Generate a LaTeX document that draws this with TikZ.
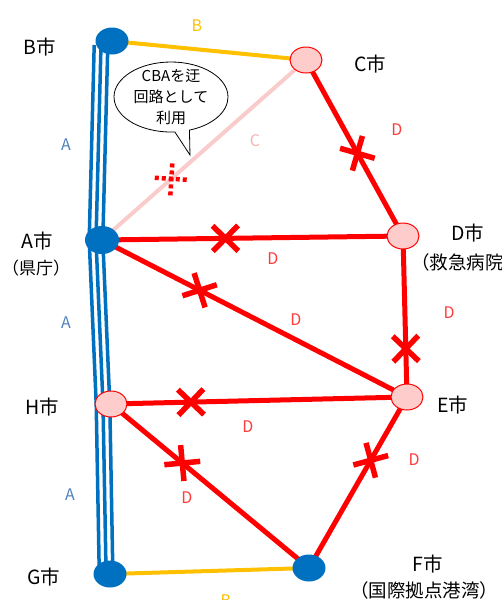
\documentclass[tikz,border=0pt]{standalone}
\usepackage{fontspec}
\setmainfont{Noto Sans CJK JP}
\usetikzlibrary{shapes.geometric,shapes.misc,shapes.callouts,backgrounds}
\definecolor{cblue}{HTML}{0070C0}
\definecolor{cyellow}{HTML}{FFC000}
\definecolor{cpinkline}{HTML}{F9CBCB}
\definecolor{cpinkfill}{HTML}{FFCCCC}
\definecolor{cred}{HTML}{FF0000}
\definecolor{cdlabel}{HTML}{FF3B3B}
\definecolor{calabel}{HTML}{4F81BD}
\definecolor{cclabel}{HTML}{F4B4B4}
\begin{document}
\begin{tikzpicture}[x=1pt,y=-1pt,
  bnode/.style={ellipse,fill=cblue,minimum width=33pt,minimum height=27pt,inner sep=0},
  pnode/.style={ellipse,fill=cpinkfill,draw=cred,line width=1pt,minimum width=32pt,minimum height=26pt,inner sep=0},
  blueline/.style={draw=cblue,line width=3.5pt},
  yline/.style={draw=cyellow,line width=4pt},
  pline/.style={draw=cpinkline,line width=4pt},
  rline/.style={draw=cred,line width=5pt},
  xmark/.style={cross out,draw=cred,line width=5.5pt,minimum size=20pt,inner sep=0,sloped},
  citylbl/.style={font=\fontsize{19.5}{22}\selectfont,text=black,inner sep=0},
  sublbl/.style={font=\fontsize{18.5}{22}\selectfont,text=black,inner sep=0},
  dlbl/.style={font=\fontsize{16}{18}\selectfont,text=cdlabel,inner sep=0},
  albl/.style={font=\fontsize{16}{18}\selectfont,text=calabel,inner sep=0},
  blbl/.style={font=\fontsize{16}{18}\selectfont,text=cyellow,inner sep=0},
  clbl/.style={font=\fontsize{16}{18}\selectfont,text=cclabel,inner sep=0}]
\useasboundingbox (0,0) rectangle (501,600);
\clip (0,0) rectangle (501,600);

% city nodes
\node[bnode] (B) at (112,41) {};
\node[pnode] (C) at (306,60) {};
\node[bnode,minimum width=34pt,minimum height=28pt] (A) at (102,240) {};
\node[pnode] (D) at (403,236) {};
\node[pnode] (H) at (111,404) {};
\node[pnode] (E) at (407,397) {};
\node[bnode] (G) at (110,574) {};
\node[bnode] (F) at (309,568) {};

% connectors
\begin{scope}[on background layer]
  \foreach \d in {-6.8,0,6.8}{
    \draw[blueline] ([xshift=-11pt+\d pt,yshift=-4pt]B.center) -- ([xshift=-6pt+\d pt]A.center)
      -- ([xshift=-8pt+\d pt]H.center) -- ([xshift=-4pt+\d pt,yshift=4pt]G.center);
  }
  \draw[yline] (B.center) -- (C.center);
  \draw[yline] (G.center) -- (F.center);
  \draw[pline] (C.center) -- (A.center);
  \draw[rline] (C.center) -- (D.center);
  \draw[rline] (A.center) -- (D.center);
  \draw[rline] (A.center) -- (E.center);
  \draw[rline] (D.center) -- (E.center);
  \draw[rline] (H.center) -- (E.center);
  \draw[rline] (H.center) -- (F.center);
  \draw[rline] (E.center) -- (F.center);
\end{scope}

% cut marks
\path (C.center) -- (D.center) node[xmark,pos=0.53] (xCD) {};
\path (A.center) -- (D.center) node[xmark,pos=0.41] (xAD) {};
\path (A.center) -- (E.center) node[xmark,pos=0.32] (xAE) {};
\path (D.center) -- (E.center) node[xmark,pos=0.70] (xDE) {};
\path (H.center) -- (E.center) node[xmark,pos=0.27] (xHE) {};
\path (H.center) -- (F.center) node[xmark,pos=0.36] (xHF) {};
\path (E.center) -- (F.center) node[xmark,pos=0.37] (xEF) {};
\path (C.center) -- (A.center) node[xmark,pos=0.66,minimum size=19pt,line width=4.5pt,dash pattern=on 4pt off 3pt] (xCA) {};

% callout
\node[ellipse callout,draw=black,fill=white,line width=0.8pt,minimum width=114pt,minimum height=70pt,
      inner sep=-10pt,callout absolute pointer={(190,155)},align=center,
      font=\fontsize{15}{21}\selectfont] (note) at (171,97) {CBAを迂\\回路として\\利用};

% city labels
\node[citylbl] (lB) at (40,47) {B市};
\node[citylbl] (lC) at (370,64) {C市};
\node[citylbl] (lA) at (37,241) {A市};
\node[sublbl,font=\fontsize{17}{20}\selectfont] (lA2) at (36,268) {（県庁）};
\node[citylbl] (lD) at (468,233) {D市};
\node[sublbl,anchor=west] (lD2) at (411,262) {（救急病院）};
\node[citylbl] (lH) at (42,407) {H市};
\node[citylbl] (lE) at (453,405) {E市};
\node[citylbl] (lG) at (44,577) {G市};
\node[citylbl] (lF) at (428,564) {F市};
\node[sublbl] (lF2) at (424,590) {（国際拠点港湾）};

% link labels
\node[blbl] (tB1) at (197,26) {B};
\node[blbl] (tB2) at (226,601) {B};
\node[clbl] (tC) at (255,141) {C};
\node[albl] (tA1) at (66,145) {A};
\node[albl] (tA2) at (66,323) {A};
\node[albl] (tA3) at (70,495) {A};
\node[dlbl] (tD1) at (397,130) {D};
\node[dlbl] (tD2) at (273,259) {D};
\node[dlbl] (tD3) at (296,320) {D};
\node[dlbl] (tD4) at (449,313) {D};
\node[dlbl] (tD5) at (248,427) {D};
\node[dlbl] (tD6) at (187,498) {D};
\node[dlbl] (tD7) at (414,460) {D};
\end{tikzpicture}
\end{document}
